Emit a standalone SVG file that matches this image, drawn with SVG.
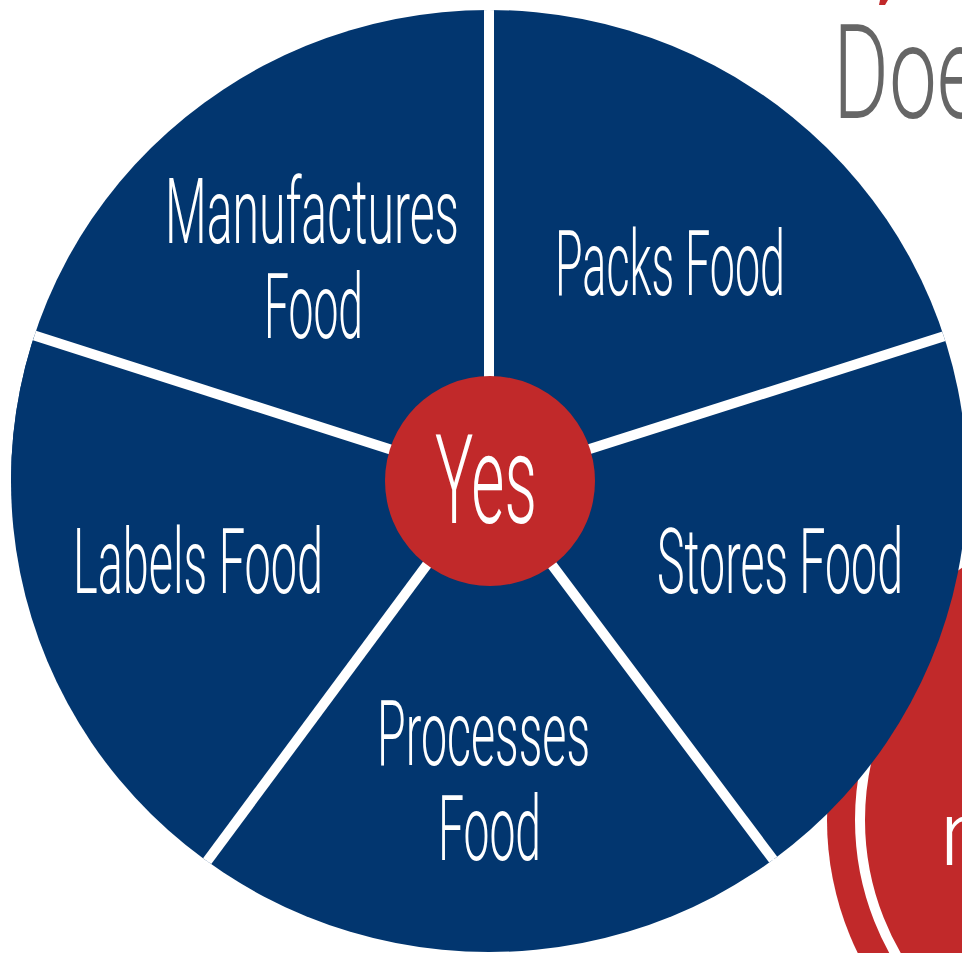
<svg xmlns="http://www.w3.org/2000/svg" width="962" height="953" viewBox="0 0 962 953">
<style>
.seg{fill:#02366F}
.lbl{fill:#fff;font-family:Roboto,"Liberation Sans",sans-serif;font-weight:300;font-size:90px}
.gap{stroke:#fff;stroke-width:10;fill:none}
</style>
<defs>
<clipPath id="pie"><ellipse cx="489" cy="481" rx="478" ry="471"/></clipPath>
<clipPath id="ringclip"><rect x="800" y="700" width="200" height="300"/></clipPath>
</defs>
<rect width="962" height="953" fill="#fff"/>
<g id="bg-text">
<polygon points="880,0 888,0 885,5 879,5" fill="#C1292A"/>
<text x="833" y="118" font-family="Roboto,'Liberation Sans',sans-serif" font-weight="300" font-size="131" fill="#666" textLength="148" lengthAdjust="spacingAndGlyphs">Doe</text>
</g>
<g id="red-circle">
<circle cx="1130" cy="820" r="303" fill="#C1292A"/>
<circle cx="1130" cy="820" r="270" fill="none" stroke="#fff" stroke-width="10" clip-path="url(#ringclip)"/>
<text x="940" y="865" class="lbl" font-size="91">n</text>
</g>
<g clip-path="url(#pie)">
<g id="seg-manufactures">
<path class="seg" d="M489,481 L489,0 L0,0 L0,320 L36,336 Z"/>
<path class="seg" d="M489,481 L36,336 L-100,290 L-100,480 Z"/>
</g>
<g id="seg-packs">
<path class="seg" d="M489,481 L489,0 L962,0 L962,330 L943,336.5 Z"/>
</g>
<g id="seg-stores">
<path class="seg" d="M489,481 L943,336.5 L1000,318 L1000,953 L772,858 Z"/>
</g>
<g id="seg-processes">
<path class="seg" d="M489,481 L772,858 L800,953 L180,953 L208,860 Z"/>
</g>
<g id="seg-labels">
<path class="seg" d="M489,481 L208,860 L150,953 L-100,953 L-100,290 L36,336 Z"/>
</g>
<g id="connectors">
<line class="gap" x1="489" y1="481" x2="489" y2="-20"/>
<line class="gap" x1="489" y1="481" x2="1010" y2="315.3"/>
<line class="gap" x1="489" y1="481" x2="-30" y2="315"/>
<line class="gap" x1="489" y1="481" x2="169" y2="912.6"/>
<line class="gap" x1="489" y1="481" x2="808" y2="906"/>
</g>
</g>
<g id="labels">
<text class="lbl" x="165" y="243" textLength="294" lengthAdjust="spacingAndGlyphs">Manufactures</text>
<text class="lbl" x="264" y="338" textLength="99" lengthAdjust="spacingAndGlyphs">Food</text>
<text class="lbl" x="555" y="295" textLength="230" lengthAdjust="spacingAndGlyphs">Packs Food</text>
<text class="lbl" x="657" y="593" textLength="246" lengthAdjust="spacingAndGlyphs">Stores Food</text>
<text class="lbl" x="73" y="593" textLength="250" lengthAdjust="spacingAndGlyphs">Labels Food</text>
<text class="lbl" x="377" y="765" textLength="213" lengthAdjust="spacingAndGlyphs">Processes</text>
<text class="lbl" x="438" y="860" textLength="103" lengthAdjust="spacingAndGlyphs">Food</text>
</g>
<g id="center-yes">
<circle cx="490" cy="481" r="105" fill="#C1292A"/>
<text x="435" y="523" font-family="Roboto,'Liberation Sans',sans-serif" font-weight="300" font-size="124" fill="#fff" textLength="102" lengthAdjust="spacingAndGlyphs">Yes</text>
</g>
</svg>
